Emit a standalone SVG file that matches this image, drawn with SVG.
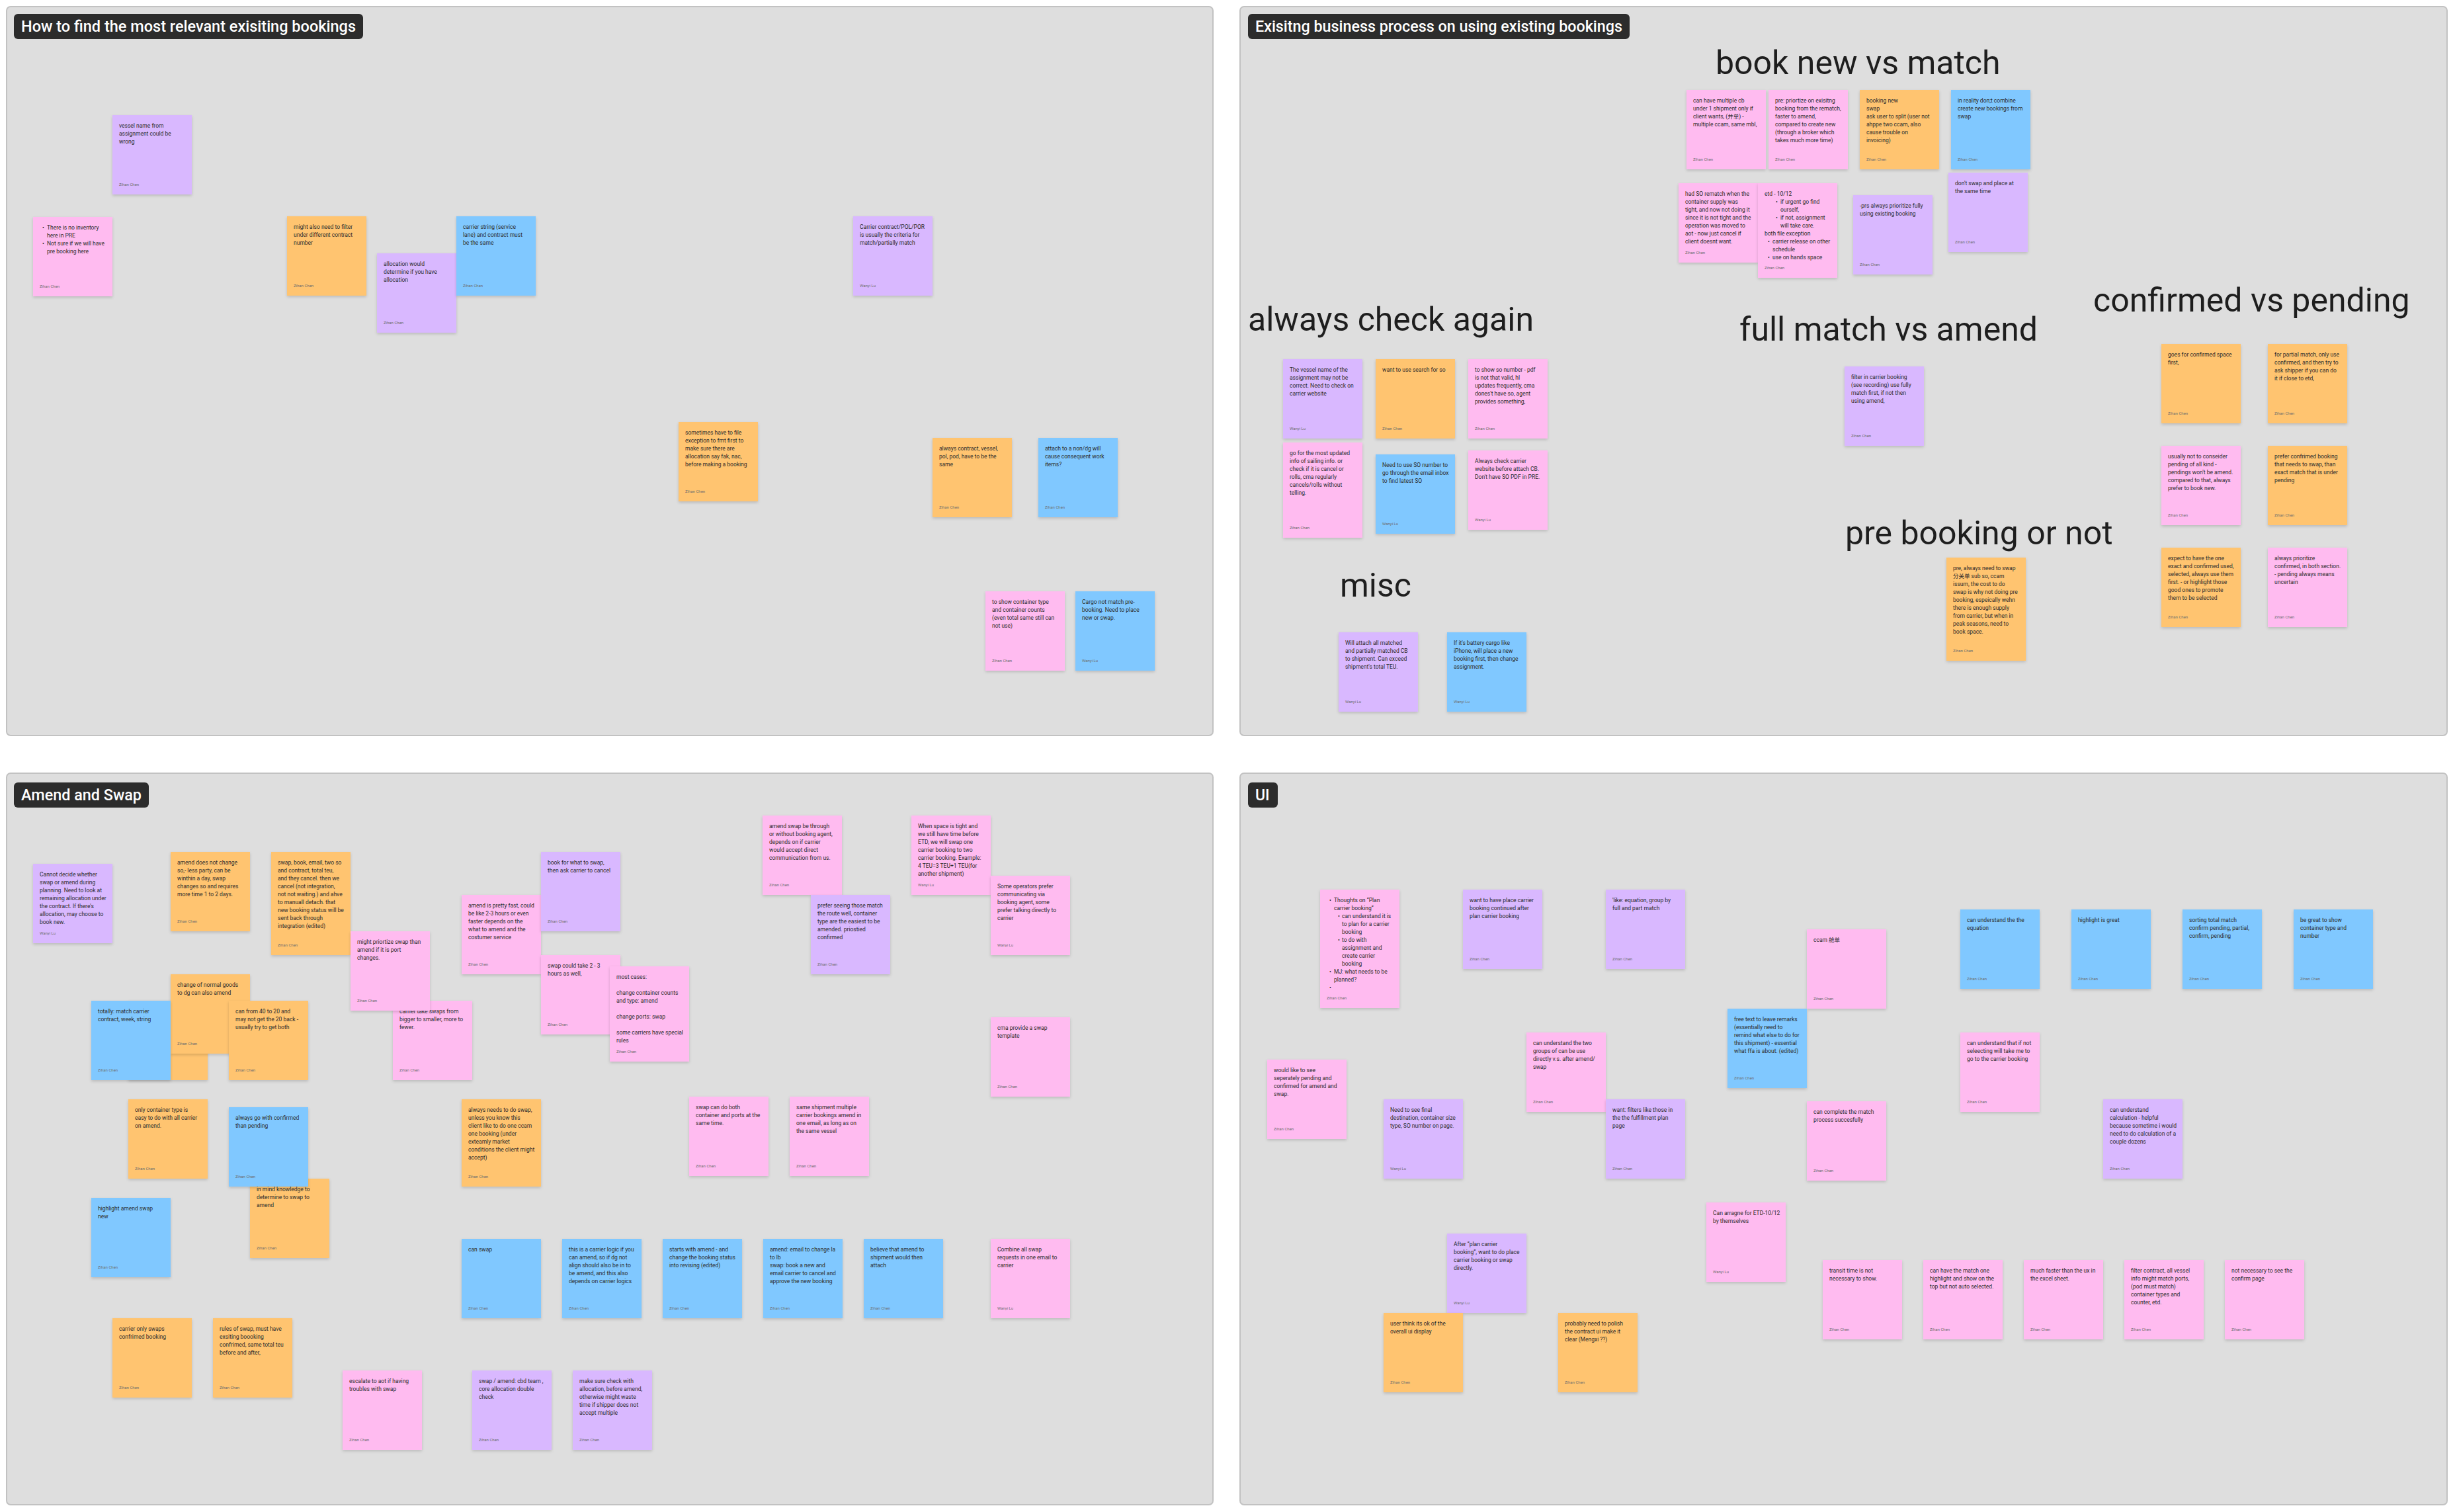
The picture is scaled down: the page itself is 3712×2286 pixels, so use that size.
<svg xmlns="http://www.w3.org/2000/svg" width="3712" height="2286" viewBox="0 0 3712 2286">
<defs>
<filter id="sh" x="-10%" y="-10%" width="120%" height="130%"><feDropShadow dx="0" dy="2" stdDeviation="2" flood-color="#000" flood-opacity="0.16"/></filter>
<style>
.panel{fill:#dedede;stroke:#c2c2c2;stroke-width:2}
.tag{fill:#2c2c2c}
.tagt{font-family:Roboto,'Liberation Sans',sans-serif;font-size:23px;font-weight:500;fill:#ffffff}
.h{font-family:Roboto,'Liberation Sans',sans-serif;font-size:50px;fill:#1e1e1e}
.note rect{filter:url(#sh)}
.pu{fill:#d9b8ff}.pk{fill:#ffbbf0}.or{fill:#ffc470}.bl{fill:#80c8ff}
.t{font-family:Roboto,'Liberation Sans','Noto Sans CJK SC',sans-serif;font-size:8.5px;fill:#2b2b2b}
.a{font-family:Roboto,'Liberation Sans',sans-serif;font-size:6px;fill:#6e6e6e}
</style>
</defs>
<rect width="3712" height="2286" fill="#ffffff"/>

<g id="panels">
<rect class="panel" x="10" y="10" width="1824" height="1102" rx="6"/>
<rect class="panel" x="1875" y="10" width="1825" height="1102" rx="6"/>
<rect class="panel" x="10" y="1169" width="1824" height="1106" rx="6"/>
<rect class="panel" x="1875" y="1169" width="1825" height="1106" rx="6"/>
</g>

<g id="titles">
<rect class="tag" x="21" y="21" width="528" height="38" rx="6"/><text class="tagt" x="32" y="48" textLength="506" lengthAdjust="spacingAndGlyphs">How to find the most relevant exisiting bookings</text>
<rect class="tag" x="1887" y="21" width="577" height="38" rx="6"/><text class="tagt" x="1898" y="48" textLength="555" lengthAdjust="spacingAndGlyphs">Exisitng business process on using existing bookings</text>
<rect class="tag" x="21" y="1183" width="204" height="38" rx="6"/><text class="tagt" x="32" y="1210" textLength="182" lengthAdjust="spacingAndGlyphs">Amend and Swap</text>
<rect class="tag" x="1887" y="1183" width="45" height="38" rx="6"/><text class="tagt" x="1898" y="1210">UI</text>
</g>

<g id="headings">
<text class="h" x="2594" y="112">book new vs match</text>
<text class="h" x="1887" y="500">always check again</text>
<text class="h" x="2630" y="515">full match vs amend</text>
<text class="h" x="3165" y="471">confirmed vs pending</text>
<text class="h" x="2790" y="823">pre booking or not</text>
<text class="h" x="2026" y="902">misc</text>
</g>

<g id="connectors"></g>

<!-- Panel 1 -->
<g id="p1-vessel" class="note" transform="translate(170,174)"><rect class="pu" width="120" height="120"/><text class="t"><tspan x="10" y="19">vessel name from</tspan><tspan x="10" y="31">assignment could be</tspan><tspan x="10" y="43">wrong</tspan></text><text class="a" x="10" y="107">Zihan Chen</text></g>
<g id="p1-inventory" class="note" transform="translate(50,328)"><rect class="pk" width="120" height="120"/><text class="t"><tspan x="14" y="19">•</tspan><tspan x="21" y="19">There is no inventory</tspan><tspan x="21" y="31">here in PRE</tspan><tspan x="14" y="43">•</tspan><tspan x="21" y="43">Not sure if we will have</tspan><tspan x="21" y="55">pre booking here</tspan></text><text class="a" x="10" y="107">Zihan Chen</text></g>
<g id="p1-filter" class="note" transform="translate(434,327)"><rect class="or" width="120" height="120"/><text class="t"><tspan x="10" y="19">might also need to filter</tspan><tspan x="10" y="31">under different contract</tspan><tspan x="10" y="43">number</tspan></text><text class="a" x="10" y="107">Zihan Chen</text></g>
<g id="p1-allocation" class="note" transform="translate(570,383)"><rect class="pu" width="120" height="120"/><text class="t"><tspan x="10" y="19">allocation would</tspan><tspan x="10" y="31">determine if you have</tspan><tspan x="10" y="43">allocation</tspan></text><text class="a" x="10" y="107">Zihan Chen</text></g>
<g id="p1-string" class="note" transform="translate(690,327)"><rect class="bl" width="120" height="120"/><text class="t"><tspan x="10" y="19">carrier string (service</tspan><tspan x="10" y="31">lane) and contract must</tspan><tspan x="10" y="43">be the same</tspan></text><text class="a" x="10" y="107">Zihan Chen</text></g>
<g id="p1-criteria" class="note" transform="translate(1290,327)"><rect class="pu" width="120" height="120"/><text class="t"><tspan x="10" y="19">Carrier contract/POL/POR</tspan><tspan x="10" y="31">is usually the criteria for</tspan><tspan x="10" y="43">match/partially match</tspan></text><text class="a" x="10" y="107">Wanyi Lu</text></g>
<g id="p1-exception" class="note" transform="translate(1026,638)"><rect class="or" width="120" height="120"/><text class="t"><tspan x="10" y="19">sometimes have to file</tspan><tspan x="10" y="31">exception to fmt first to</tspan><tspan x="10" y="43">make sure there are</tspan><tspan x="10" y="55">allocation say fak, nac,</tspan><tspan x="10" y="67">before making a booking</tspan></text><text class="a" x="10" y="107">Zihan Chen</text></g>
<g id="p1-always" class="note" transform="translate(1410,662)"><rect class="or" width="120" height="120"/><text class="t"><tspan x="10" y="19">always contract, vessel,</tspan><tspan x="10" y="31">pol, pod, have to be the</tspan><tspan x="10" y="43">same</tspan></text><text class="a" x="10" y="107">Zihan Chen</text></g>
<g id="p1-attach" class="note" transform="translate(1570,662)"><rect class="bl" width="120" height="120"/><text class="t"><tspan x="10" y="19">attach to a non/dg will</tspan><tspan x="10" y="31">cause consequent work</tspan><tspan x="10" y="43">items?</tspan></text><text class="a" x="10" y="107">Zihan Chen</text></g>
<g id="p1-containers" class="note" transform="translate(1490,894)"><rect class="pk" width="120" height="120"/><text class="t"><tspan x="10" y="19">to show container type</tspan><tspan x="10" y="31">and container counts</tspan><tspan x="10" y="43">(even total same still can</tspan><tspan x="10" y="55">not use)</tspan></text><text class="a" x="10" y="107">Zihan Chen</text></g>
<g id="p1-cargo" class="note" transform="translate(1626,894)"><rect class="bl" width="120" height="120"/><text class="t"><tspan x="10" y="19">Cargo not match pre-</tspan><tspan x="10" y="31">booking. Need to place</tspan><tspan x="10" y="43">new or swap.</tspan></text><text class="a" x="10" y="107">Wanyi Lu</text></g>

<!-- Panel 2 -->
<g id="p2-multiple" class="note" transform="translate(2550,136)"><rect class="pk" width="120" height="120"/><text class="t"><tspan x="10" y="19">can have multiple cb</tspan><tspan x="10" y="31">under 1 shipment only if</tspan><tspan x="10" y="43">client wants, (并单) -</tspan><tspan x="10" y="55">multiple ccam, same mbl,</tspan></text><text class="a" x="10" y="107">Zihan Chen</text></g>
<g id="p2-priortize" class="note" transform="translate(2674,136)"><rect class="pk" width="120" height="120"/><text class="t"><tspan x="10" y="19">pre: priortize on exisitng</tspan><tspan x="10" y="31">booking from the rematch,</tspan><tspan x="10" y="43">faster to  amend,</tspan><tspan x="10" y="55">compared to create new</tspan><tspan x="10" y="67">(through a broker which</tspan><tspan x="10" y="79">takes much more time)</tspan></text><text class="a" x="10" y="107">Zihan Chen</text></g>
<g id="p2-split" class="note" transform="translate(2812,136)"><rect class="or" width="120" height="120"/><text class="t"><tspan x="10" y="19">booking new</tspan><tspan x="10" y="31">swap</tspan><tspan x="10" y="43">ask user to split (user not</tspan><tspan x="10" y="55">ahppe two ccam, also</tspan><tspan x="10" y="67">cause trouble on</tspan><tspan x="10" y="79">invoicing)</tspan></text><text class="a" x="10" y="107">Zihan Chen</text></g>
<g id="p2-reality" class="note" transform="translate(2950,136)"><rect class="bl" width="120" height="120"/><text class="t"><tspan x="10" y="19">in reality don;t combine</tspan><tspan x="10" y="31">create new bookings from</tspan><tspan x="10" y="43">swap</tspan></text><text class="a" x="10" y="107">Zihan Chen</text></g>
<g id="p2-rematch" class="note" transform="translate(2538,277)"><rect class="pk" width="120" height="120"/><text class="t"><tspan x="10" y="19">had SO rematch when the</tspan><tspan x="10" y="31">container supply was</tspan><tspan x="10" y="43">tight, and now not doing it</tspan><tspan x="10" y="55">since it is not tight and the</tspan><tspan x="10" y="67">operation was moved to</tspan><tspan x="10" y="79">aot - now just cancel if</tspan><tspan x="10" y="91">client doesnt want.</tspan></text><text class="a" x="10" y="107">Zihan Chen</text></g>
<g id="p2-etd" class="note" transform="translate(2658,277)"><rect class="pk" width="120" height="143"/><text class="t"><tspan x="10" y="19">etd - 10/12</tspan><tspan x="27" y="31">•</tspan><tspan x="34" y="31">if urgent go find</tspan><tspan x="34" y="43">ourself,</tspan><tspan x="27" y="55">•</tspan><tspan x="34" y="55">if not, assignment</tspan><tspan x="34" y="67">will take care.</tspan><tspan x="10" y="79">both file exception</tspan><tspan x="15" y="91">•</tspan><tspan x="22" y="91">carrier release on other</tspan><tspan x="22" y="103">schedule</tspan><tspan x="15" y="115">•</tspan><tspan x="22" y="115">use on hands space</tspan></text><text class="a" x="10" y="130">Zihan Chen</text></g>
<g id="p2-prs" class="note" transform="translate(2802,295)"><rect class="pu" width="120" height="120"/><text class="t"><tspan x="10" y="19">-prs always prioritize fully</tspan><tspan x="10" y="31">using existing booking</tspan></text><text class="a" x="10" y="107">Zihan Chen</text></g>
<g id="p2-dontswap" class="note" transform="translate(2946,261)"><rect class="pu" width="120" height="120"/><text class="t"><tspan x="10" y="19">don't swap and place at</tspan><tspan x="10" y="31">the same time</tspan></text><text class="a" x="10" y="107">Zihan Chen</text></g>

<g id="p2-vesselname" class="note" transform="translate(1940,543)"><rect class="pu" width="120" height="120"/><text class="t"><tspan x="10" y="19">The vessel name of the</tspan><tspan x="10" y="31">assignment may not be</tspan><tspan x="10" y="43">correct. Need to check on</tspan><tspan x="10" y="55">carrier website</tspan></text><text class="a" x="10" y="107">Wanyi Lu</text></g>
<g id="p2-search" class="note" transform="translate(2080,543)"><rect class="or" width="120" height="120"/><text class="t"><tspan x="10" y="19">want to use search for so</tspan></text><text class="a" x="10" y="107">Zihan Chen</text></g>
<g id="p2-sonumber" class="note" transform="translate(2220,543)"><rect class="pk" width="120" height="120"/><text class="t"><tspan x="10" y="19">to show so number - pdf</tspan><tspan x="10" y="31">is not that valid, hl</tspan><tspan x="10" y="43">updates frequently, cma</tspan><tspan x="10" y="55">dones't have so, agent</tspan><tspan x="10" y="67">provides something,</tspan></text><text class="a" x="10" y="107">Zihan Chen</text></g>
<g id="p2-updated" class="note" transform="translate(1940,669)"><rect class="pk" width="120" height="144"/><text class="t"><tspan x="10" y="19">go for the most updated</tspan><tspan x="10" y="31">info of sailing info. or</tspan><tspan x="10" y="43">check if it is cancel or</tspan><tspan x="10" y="55">rolls, cma regularly</tspan><tspan x="10" y="67">cancels/rolls without</tspan><tspan x="10" y="79">telling.</tspan></text><text class="a" x="10" y="131">Zihan Chen</text></g>
<g id="p2-inbox" class="note" transform="translate(2080,687)"><rect class="bl" width="120" height="120"/><text class="t"><tspan x="10" y="19">Need to use SO number to</tspan><tspan x="10" y="31">go through the email inbox</tspan><tspan x="10" y="43">to find latest SO</tspan></text><text class="a" x="10" y="107">Wanyi Lu</text></g>
<g id="p2-website" class="note" transform="translate(2220,681)"><rect class="pk" width="120" height="120"/><text class="t"><tspan x="10" y="19">Always check carrier</tspan><tspan x="10" y="31">website before attach CB.</tspan><tspan x="10" y="43">Don't have SO PDF in PRE.</tspan></text><text class="a" x="10" y="107">Wanyi Lu</text></g>
<g id="p2-attachall" class="note" transform="translate(2024,956)"><rect class="pu" width="120" height="120"/><text class="t"><tspan x="10" y="19">Will attach all matched</tspan><tspan x="10" y="31">and partially matched CB</tspan><tspan x="10" y="43">to shipment. Can exceed</tspan><tspan x="10" y="55">shipment's total TEU.</tspan></text><text class="a" x="10" y="107">Wanyi Lu</text></g>
<g id="p2-battery" class="note" transform="translate(2188,956)"><rect class="bl" width="120" height="120"/><text class="t"><tspan x="10" y="19">If it's battery cargo like</tspan><tspan x="10" y="31">iPhone, will place a new</tspan><tspan x="10" y="43">booking first, then change</tspan><tspan x="10" y="55">assignment.</tspan></text><text class="a" x="10" y="107">Wanyi Lu</text></g>
<g id="p2-filterfully" class="note" transform="translate(2789,554)"><rect class="pu" width="120" height="120"/><text class="t"><tspan x="10" y="19">filter in carrier booking</tspan><tspan x="10" y="31">(see recording) use fully</tspan><tspan x="10" y="43">match first, if not then</tspan><tspan x="10" y="55">using amend,</tspan></text><text class="a" x="10" y="107">Zihan Chen</text></g>
<g id="p2-confirmedfirst" class="note" transform="translate(3268,520)"><rect class="or" width="120" height="120"/><text class="t"><tspan x="10" y="19">goes for confirmed space</tspan><tspan x="10" y="31">first,</tspan></text><text class="a" x="10" y="107">Zihan Chen</text></g>
<g id="p2-partial" class="note" transform="translate(3429,520)"><rect class="or" width="120" height="120"/><text class="t"><tspan x="10" y="19">for partial match, only use</tspan><tspan x="10" y="31">confirmed, and then try to</tspan><tspan x="10" y="43">ask shipper if you can  do</tspan><tspan x="10" y="55">it if close to etd,</tspan></text><text class="a" x="10" y="107">Zihan Chen</text></g>
<g id="p2-pendingkind" class="note" transform="translate(3268,674)"><rect class="pk" width="120" height="120"/><text class="t"><tspan x="10" y="19">usually not to conseider</tspan><tspan x="10" y="31">pending of all kind -</tspan><tspan x="10" y="43">pendings won't be amend.</tspan><tspan x="10" y="55">compared to that, always</tspan><tspan x="10" y="67">prefer to book new.</tspan></text><text class="a" x="10" y="107">Zihan Chen</text></g>
<g id="p2-preferconfirmed" class="note" transform="translate(3429,674)"><rect class="or" width="120" height="120"/><text class="t"><tspan x="10" y="19">prefer confrimed booking</tspan><tspan x="10" y="31">that needs to swap, than</tspan><tspan x="10" y="43">exact match that is under</tspan><tspan x="10" y="55">pending</tspan></text><text class="a" x="10" y="107">Zihan Chen</text></g>
<g id="p2-expect" class="note" transform="translate(3268,828)"><rect class="or" width="120" height="120"/><text class="t"><tspan x="10" y="19">expect to have the one</tspan><tspan x="10" y="31">exact and confirmed used,</tspan><tspan x="10" y="43">selected, always use them</tspan><tspan x="10" y="55">first. -  or highlight those</tspan><tspan x="10" y="67">good ones to promote</tspan><tspan x="10" y="79">them to be selected</tspan></text><text class="a" x="10" y="107">Zihan Chen</text></g>
<g id="p2-prioritize" class="note" transform="translate(3429,828)"><rect class="pk" width="120" height="120"/><text class="t"><tspan x="10" y="19">always prioritize</tspan><tspan x="10" y="31">confirmed, in both section.</tspan><tspan x="10" y="43">- pending always means</tspan><tspan x="10" y="55">uncertain</tspan></text><text class="a" x="10" y="107">Zihan Chen</text></g>
<g id="p2-prebooking" class="note" transform="translate(2943,843)"><rect class="or" width="120" height="156"/><text class="t"><tspan x="10" y="19">pre, always need to swap</tspan><tspan x="10" y="31">分关单 sub so, ccam</tspan><tspan x="10" y="43">issum, the cost to do</tspan><tspan x="10" y="55">swap is why not doing pre</tspan><tspan x="10" y="67">booking, espeically wehn</tspan><tspan x="10" y="79">there is enough supply</tspan><tspan x="10" y="91">from carrier, but when in</tspan><tspan x="10" y="103">peak seasons, need to</tspan><tspan x="10" y="115">book space.</tspan></text><text class="a" x="10" y="143">Zihan Chen</text></g>

<!-- Panel 3 -->
<g id="p3-cannotdecide" class="note" transform="translate(50,1306)"><rect class="pu" width="120" height="120"/><text class="t"><tspan x="10" y="19">Cannot decide whether</tspan><tspan x="10" y="31">swap or amend during</tspan><tspan x="10" y="43">planning. Need to look at</tspan><tspan x="10" y="55">remaining allocation under</tspan><tspan x="10" y="67">the contract. If there's</tspan><tspan x="10" y="79">allocation, may choose to</tspan><tspan x="10" y="91">book new.</tspan></text><text class="a" x="10" y="107">Wanyi Lu</text></g>
<g id="p3-amendnochange" class="note" transform="translate(258,1288)"><rect class="or" width="120" height="120"/><text class="t"><tspan x="10" y="19">amend does not change</tspan><tspan x="10" y="31">so,- less party, can be</tspan><tspan x="10" y="43">winthin a day, swap</tspan><tspan x="10" y="55">changes so and requires</tspan><tspan x="10" y="67">more time 1 to 2 days.</tspan></text><text class="a" x="10" y="107">Zihan Chen</text></g>
<g id="p3-swapbook" class="note" transform="translate(410,1288)"><rect class="or" width="120" height="156"/><text class="t"><tspan x="10" y="19">swap, book, email, two so</tspan><tspan x="10" y="31">and contract, total  teu,</tspan><tspan x="10" y="43">and they cancel. then we</tspan><tspan x="10" y="55">cancel (not integration,</tspan><tspan x="10" y="67">not not waiting.) and ahve</tspan><tspan x="10" y="79">to manuall detach. that</tspan><tspan x="10" y="91">new booking status will be</tspan><tspan x="10" y="103">sent back through</tspan><tspan x="10" y="115">integration (edited)</tspan></text><text class="a" x="10" y="143">Zihan Chen</text></g>
<g id="p3-carriertake" class="note" transform="translate(594,1513)"><rect class="pk" width="120" height="120"/><text class="t"><tspan x="10" y="19">carrier take swaps from</tspan><tspan x="10" y="31">bigger to smaller, more to</tspan><tspan x="10" y="43">fewer.</tspan></text><text class="a" x="10" y="107">Zihan Chen</text></g>
<g id="p3-portchanges" class="note" transform="translate(530,1408)"><rect class="pk" width="120" height="120"/><text class="t"><tspan x="10" y="19">might priortize swap than</tspan><tspan x="10" y="31">amend if it is port</tspan><tspan x="10" y="43">changes.</tspan></text><text class="a" x="10" y="107">Zihan Chen</text></g>
<g id="p3-hidden" class="note" transform="translate(194,1513)"><rect class="or" width="120" height="120"/></g>
<g id="p3-normalgoods" class="note" transform="translate(258,1473)"><rect class="or" width="120" height="120"/><text class="t"><tspan x="10" y="19">change of normal goods</tspan><tspan x="10" y="31">to dg can also amend</tspan></text><text class="a" x="10" y="107">Zihan Chen</text></g>
<g id="p3-totally" class="note" transform="translate(138,1513)"><rect class="bl" width="120" height="120"/><text class="t"><tspan x="10" y="19">totally: match carrier</tspan><tspan x="10" y="31">contract, week, string</tspan></text><text class="a" x="10" y="107">Zihan Chen</text></g>
<g id="p3-40to20" class="note" transform="translate(346,1513)"><rect class="or" width="120" height="120"/><text class="t"><tspan x="10" y="19">can from 40 to 20 and</tspan><tspan x="10" y="31">may not get the 20 back -</tspan><tspan x="10" y="43">usually try to get both</tspan></text><text class="a" x="10" y="107">Zihan Chen</text></g>
<g id="p3-containertype" class="note" transform="translate(194,1662)"><rect class="or" width="120" height="120"/><text class="t"><tspan x="10" y="19">only container type is</tspan><tspan x="10" y="31">easy to do with all carrier</tspan><tspan x="10" y="43">on amend.</tspan></text><text class="a" x="10" y="107">Zihan Chen</text></g>
<g id="p3-inmind" class="note" transform="translate(378,1782)"><rect class="or" width="120" height="120"/><text class="t"><tspan x="10" y="19">in mind knowledge to</tspan><tspan x="10" y="31">determine to swap to</tspan><tspan x="10" y="43">amend</tspan></text><text class="a" x="10" y="107">Zihan Chen</text></g>
<g id="p3-alwaysgo" class="note" transform="translate(346,1674)"><rect class="bl" width="120" height="120"/><text class="t"><tspan x="10" y="19">always go with confirmed</tspan><tspan x="10" y="31">than pending</tspan></text><text class="a" x="10" y="107">Zihan Chen</text></g>
<g id="p3-highlight" class="note" transform="translate(138,1811)"><rect class="bl" width="120" height="120"/><text class="t"><tspan x="10" y="19">highlight amend swap</tspan><tspan x="10" y="31">new</tspan></text><text class="a" x="10" y="107">Zihan Chen</text></g>
<g id="p3-carrieronly" class="note" transform="translate(170,1993)"><rect class="or" width="120" height="120"/><text class="t"><tspan x="10" y="19">carrier only swaps</tspan><tspan x="10" y="31">confrimed booking</tspan></text><text class="a" x="10" y="107">Zihan Chen</text></g>
<g id="p3-rules" class="note" transform="translate(322,1993)"><rect class="or" width="120" height="120"/><text class="t"><tspan x="10" y="19">rules of swap, must have</tspan><tspan x="10" y="31">exsiting boooking</tspan><tspan x="10" y="43">confrimed, same total teu</tspan><tspan x="10" y="55">before and after,</tspan></text><text class="a" x="10" y="107">Zihan Chen</text></g>
<g id="p3-escalate" class="note" transform="translate(518,2072)"><rect class="pk" width="120" height="120"/><text class="t"><tspan x="10" y="19">escalate to aot if having</tspan><tspan x="10" y="31">troubles with swap</tspan></text><text class="a" x="10" y="107">Zihan Chen</text></g>
<g id="p3-amendfast" class="note" transform="translate(698,1353)"><rect class="pk" width="120" height="120"/><text class="t"><tspan x="10" y="19">amend is pretty fast, could</tspan><tspan x="10" y="31">be like 2-3 hours or even</tspan><tspan x="10" y="43">faster depends on the</tspan><tspan x="10" y="55">what to amend and the</tspan><tspan x="10" y="67">costumer service</tspan></text><text class="a" x="10" y="107">Zihan Chen</text></g>
<g id="p3-bookfor" class="note" transform="translate(818,1288)"><rect class="pu" width="120" height="120"/><text class="t"><tspan x="10" y="19">book for what to swap,</tspan><tspan x="10" y="31">then ask carrier to cancel</tspan></text><text class="a" x="10" y="107">Zihan Chen</text></g>
<g id="p3-swaptake" class="note" transform="translate(818,1444)"><rect class="pk" width="120" height="120"/><text class="t"><tspan x="10" y="19">swap could take 2 - 3</tspan><tspan x="10" y="31">hours as well,</tspan></text><text class="a" x="10" y="107">Zihan Chen</text></g>
<g id="p3-mostcases" class="note" transform="translate(922,1461)"><rect class="pk" width="120" height="144"/><text class="t"><tspan x="10" y="19">most cases:</tspan><tspan x="10" y="43">change container counts</tspan><tspan x="10" y="55">and type: amend</tspan><tspan x="10" y="79">change ports: swap</tspan><tspan x="10" y="103">some carriers have special</tspan><tspan x="10" y="115">rules</tspan></text><text class="a" x="10" y="131">Zihan Chen</text></g>
<g id="p3-agent" class="note" transform="translate(1153,1233)"><rect class="pk" width="120" height="120"/><text class="t"><tspan x="10" y="19">amend swap be through</tspan><tspan x="10" y="31">or without booking agent,</tspan><tspan x="10" y="43">depends on if carrier</tspan><tspan x="10" y="55">would accept direct</tspan><tspan x="10" y="67">communication from us.</tspan></text><text class="a" x="10" y="107">Zihan Chen</text></g>
<g id="p3-preferseeing" class="note" transform="translate(1226,1353)"><rect class="pu" width="120" height="120"/><text class="t"><tspan x="10" y="19">prefer seeing those match</tspan><tspan x="10" y="31">the route well, container</tspan><tspan x="10" y="43">type are the easiest to be</tspan><tspan x="10" y="55">amended. priostied</tspan><tspan x="10" y="67">confirmed</tspan></text><text class="a" x="10" y="107">Zihan Chen</text></g>
<g id="p3-spacetight" class="note" transform="translate(1378,1233)"><rect class="pk" width="120" height="120"/><text class="t"><tspan x="10" y="19">When space is tight and</tspan><tspan x="10" y="31">we still have time before</tspan><tspan x="10" y="43">ETD, we will swap one</tspan><tspan x="10" y="55">carrier booking to two</tspan><tspan x="10" y="67">carrier booking. Example:</tspan><tspan x="10" y="79">4 TEU=3 TEU+1 TEU(for</tspan><tspan x="10" y="91">another shipment)</tspan></text><text class="a" x="10" y="107">Wanyi Lu</text></g>
<g id="p3-operators" class="note" transform="translate(1498,1324)"><rect class="pk" width="120" height="120"/><text class="t"><tspan x="10" y="19">Some operators prefer</tspan><tspan x="10" y="31">communicating via</tspan><tspan x="10" y="43">booking agent, some</tspan><tspan x="10" y="55">prefer talking directly to</tspan><tspan x="10" y="67">carrier</tspan></text><text class="a" x="10" y="107">Wanyi Lu</text></g>
<g id="p3-template" class="note" transform="translate(1498,1538)"><rect class="pk" width="120" height="120"/><text class="t"><tspan x="10" y="19">cma provide a swap</tspan><tspan x="10" y="31">template</tspan></text><text class="a" x="10" y="107">Zihan Chen</text></g>
<g id="p3-alwaysneeds" class="note" transform="translate(698,1662)"><rect class="or" width="120" height="132"/><text class="t"><tspan x="10" y="19">always needs to do swap,</tspan><tspan x="10" y="31">unless you know this</tspan><tspan x="10" y="43">client like to do one ccam</tspan><tspan x="10" y="55">one booking (under</tspan><tspan x="10" y="67">exteamly market</tspan><tspan x="10" y="79">conditions the client might</tspan><tspan x="10" y="91">accept)</tspan></text><text class="a" x="10" y="119">Zihan Chen</text></g>
<g id="p3-both" class="note" transform="translate(1042,1658)"><rect class="pk" width="120" height="120"/><text class="t"><tspan x="10" y="19">swap can do both</tspan><tspan x="10" y="31">container and ports at the</tspan><tspan x="10" y="43">same time.</tspan></text><text class="a" x="10" y="107">Zihan Chen</text></g>
<g id="p3-oneemail" class="note" transform="translate(1194,1658)"><rect class="pk" width="120" height="120"/><text class="t"><tspan x="10" y="19">same shipment multiple</tspan><tspan x="10" y="31">carrier bookings amend in</tspan><tspan x="10" y="43">one email, as long as on</tspan><tspan x="10" y="55">the same vessel</tspan></text><text class="a" x="10" y="107">Zihan Chen</text></g>
<g id="p3-canswap" class="note" transform="translate(698,1873)"><rect class="bl" width="120" height="120"/><text class="t"><tspan x="10" y="19">can swap</tspan></text><text class="a" x="10" y="107">Zihan Chen</text></g>
<g id="p3-carrierlogic" class="note" transform="translate(850,1873)"><rect class="bl" width="120" height="120"/><text class="t"><tspan x="10" y="19">this is a carrier logic if you</tspan><tspan x="10" y="31">can amend, so if dg not</tspan><tspan x="10" y="43">align should also be in to</tspan><tspan x="10" y="55">be amend, and this also</tspan><tspan x="10" y="67">depends on carrier logics</tspan></text><text class="a" x="10" y="107">Zihan Chen</text></g>
<g id="p3-revising" class="note" transform="translate(1002,1873)"><rect class="bl" width="120" height="120"/><text class="t"><tspan x="10" y="19">starts with amend - and</tspan><tspan x="10" y="31">change the booking status</tspan><tspan x="10" y="43">into revising (edited)</tspan></text><text class="a" x="10" y="107">Zihan Chen</text></g>
<g id="p3-emailchange" class="note" transform="translate(1154,1873)"><rect class="bl" width="120" height="120"/><text class="t"><tspan x="10" y="19">amend: email to change la</tspan><tspan x="10" y="31">to lb</tspan><tspan x="10" y="43">swap: book a new and</tspan><tspan x="10" y="55">email carrier to cancel and</tspan><tspan x="10" y="67">approve the new booking</tspan></text><text class="a" x="10" y="107">Zihan Chen</text></g>
<g id="p3-believe" class="note" transform="translate(1306,1873)"><rect class="bl" width="120" height="120"/><text class="t"><tspan x="10" y="19">believe that amend to</tspan><tspan x="10" y="31">shipment would then</tspan><tspan x="10" y="43">attach</tspan></text><text class="a" x="10" y="107">Zihan Chen</text></g>
<g id="p3-combine" class="note" transform="translate(1498,1873)"><rect class="pk" width="120" height="120"/><text class="t"><tspan x="10" y="19">Combine all swap</tspan><tspan x="10" y="31">requests in one email to</tspan><tspan x="10" y="43">carrier</tspan></text><text class="a" x="10" y="107">Wanyi Lu</text></g>
<g id="p3-cbdteam" class="note" transform="translate(714,2072)"><rect class="pu" width="120" height="120"/><text class="t"><tspan x="10" y="19">swap / amend: cbd team ,</tspan><tspan x="10" y="31">core allocation double</tspan><tspan x="10" y="43">check</tspan></text><text class="a" x="10" y="107">Zihan Chen</text></g>
<g id="p3-makesure" class="note" transform="translate(866,2072)"><rect class="pu" width="120" height="120"/><text class="t"><tspan x="10" y="19">make sure check with</tspan><tspan x="10" y="31">allocation, before amend,</tspan><tspan x="10" y="43">otherwise might waste</tspan><tspan x="10" y="55">time if shipper does not</tspan><tspan x="10" y="67">accept multiple</tspan></text><text class="a" x="10" y="107">Zihan Chen</text></g>

<!-- Panel 4 -->
<g id="p4-thoughts" class="note" transform="translate(1996,1345)"><rect class="pk" width="120" height="179"/><text class="t"><tspan x="14" y="19">•</tspan><tspan x="21" y="19">Thoughts on “Plan</tspan><tspan x="21" y="31">carrier booking”</tspan><tspan x="27" y="43">•</tspan><tspan x="33" y="43">can understand it is</tspan><tspan x="33" y="55">to plan for a carrier</tspan><tspan x="33" y="67">booking</tspan><tspan x="27" y="79">•</tspan><tspan x="33" y="79">to do with</tspan><tspan x="33" y="91">assignment and</tspan><tspan x="33" y="103">create carrier</tspan><tspan x="33" y="115">booking</tspan><tspan x="14" y="127">•</tspan><tspan x="21" y="127">MJ: what needs to be</tspan><tspan x="21" y="139">planned?</tspan><tspan x="14" y="151">•</tspan></text><text class="a" x="10" y="166">Zihan Chen</text></g>
<g id="p4-continued" class="note" transform="translate(2212,1345)"><rect class="pu" width="120" height="120"/><text class="t"><tspan x="10" y="19">want to have place carrier</tspan><tspan x="10" y="31">booking continued after</tspan><tspan x="10" y="43">plan carrier booking</tspan></text><text class="a" x="10" y="107">Zihan Chen</text></g>
<g id="p4-equation" class="note" transform="translate(2428,1345)"><rect class="pu" width="120" height="120"/><text class="t"><tspan x="10" y="19">'like: equation, group by</tspan><tspan x="10" y="31">full and part match</tspan></text><text class="a" x="10" y="107">Zihan Chen</text></g>
<g id="p4-ccam" class="note" transform="translate(2732,1405)"><rect class="pk" width="120" height="120"/><text class="t"><tspan x="10" y="19">ccam 舱单</tspan></text><text class="a" x="10" y="107">Zihan Chen</text></g>
<g id="p4-theequation" class="note" transform="translate(2964,1375)"><rect class="bl" width="120" height="120"/><text class="t"><tspan x="10" y="19">can understand the the</tspan><tspan x="10" y="31">equation</tspan></text><text class="a" x="10" y="107">Zihan Chen</text></g>
<g id="p4-highlightgreat" class="note" transform="translate(3132,1375)"><rect class="bl" width="120" height="120"/><text class="t"><tspan x="10" y="19">highlight is great</tspan></text><text class="a" x="10" y="107">Zihan Chen</text></g>
<g id="p4-sorting" class="note" transform="translate(3300,1375)"><rect class="bl" width="120" height="120"/><text class="t"><tspan x="10" y="19">sorting total match</tspan><tspan x="10" y="31">confirm pending, partial,</tspan><tspan x="10" y="43">confirm, pending</tspan></text><text class="a" x="10" y="107">Zihan Chen</text></g>
<g id="p4-showtype" class="note" transform="translate(3468,1375)"><rect class="bl" width="120" height="120"/><text class="t"><tspan x="10" y="19">be great to show</tspan><tspan x="10" y="31">container type and</tspan><tspan x="10" y="43">number</tspan></text><text class="a" x="10" y="107">Zihan Chen</text></g>
<g id="p4-freetext" class="note" transform="translate(2612,1525)"><rect class="bl" width="120" height="120"/><text class="t"><tspan x="10" y="19">free text to leave remarks</tspan><tspan x="10" y="31">(essentially need to</tspan><tspan x="10" y="43">remind what else to do for</tspan><tspan x="10" y="55">this shipment) - essential</tspan><tspan x="10" y="67">what ffa is about. (edited)</tspan></text><text class="a" x="10" y="107">Zihan Chen</text></g>
<g id="p4-seperately" class="note" transform="translate(1916,1602)"><rect class="pk" width="120" height="120"/><text class="t"><tspan x="10" y="19">would like to see</tspan><tspan x="10" y="31">seperately pending and</tspan><tspan x="10" y="43">confirmed for amend and</tspan><tspan x="10" y="55">swap.</tspan></text><text class="a" x="10" y="107">Zihan Chen</text></g>
<g id="p4-finaldest" class="note" transform="translate(2092,1662)"><rect class="pu" width="120" height="120"/><text class="t"><tspan x="10" y="19">Need to see final</tspan><tspan x="10" y="31">destination, container size</tspan><tspan x="10" y="43">type, SO number on page.</tspan></text><text class="a" x="10" y="107">Wanyi Lu</text></g>
<g id="p4-twogroups" class="note" transform="translate(2308,1561)"><rect class="pk" width="120" height="120"/><text class="t"><tspan x="10" y="19">can understand the two</tspan><tspan x="10" y="31">groups of can be use</tspan><tspan x="10" y="43">directly v.s. after amend/</tspan><tspan x="10" y="55">swap</tspan></text><text class="a" x="10" y="107">Zihan Chen</text></g>
<g id="p4-filters" class="note" transform="translate(2428,1662)"><rect class="pu" width="120" height="120"/><text class="t"><tspan x="10" y="19">want: filters like those in</tspan><tspan x="10" y="31">the the fulfillment plan</tspan><tspan x="10" y="43">page</tspan></text><text class="a" x="10" y="107">Zihan Chen</text></g>
<g id="p4-complete" class="note" transform="translate(2732,1665)"><rect class="pk" width="120" height="120"/><text class="t"><tspan x="10" y="19">can complete the match</tspan><tspan x="10" y="31">process succesfully</tspan></text><text class="a" x="10" y="107">Zihan Chen</text></g>
<g id="p4-notselecting" class="note" transform="translate(2964,1561)"><rect class="pk" width="120" height="120"/><text class="t"><tspan x="10" y="19">can understand that if not</tspan><tspan x="10" y="31">seleecting will take me to</tspan><tspan x="10" y="43">go to the carrier booking</tspan></text><text class="a" x="10" y="107">Zihan Chen</text></g>
<g id="p4-calculation" class="note" transform="translate(3180,1662)"><rect class="pu" width="120" height="120"/><text class="t"><tspan x="10" y="19">can understand</tspan><tspan x="10" y="31">calculation - helpful</tspan><tspan x="10" y="43">because sometime i would</tspan><tspan x="10" y="55">need to do calculation of a</tspan><tspan x="10" y="67">couple dozens</tspan></text><text class="a" x="10" y="107">Zihan Chen</text></g>
<g id="p4-etd" class="note" transform="translate(2580,1818)"><rect class="pk" width="120" height="120"/><text class="t"><tspan x="10" y="19">Can arragne for ETD-10/12</tspan><tspan x="10" y="31">by themselves</tspan></text><text class="a" x="10" y="107">Wanyi Lu</text></g>
<g id="p4-afterplan" class="note" transform="translate(2188,1865)"><rect class="pu" width="120" height="120"/><text class="t"><tspan x="10" y="19">After “plan carrier</tspan><tspan x="10" y="31">booking”, want to do place</tspan><tspan x="10" y="43">carrier booking or swap</tspan><tspan x="10" y="55">directly.</tspan></text><text class="a" x="10" y="107">Wanyi Lu</text></g>
<g id="p4-uidisplay" class="note" transform="translate(2092,1985)"><rect class="or" width="120" height="120"/><text class="t"><tspan x="10" y="19">user think its ok of the</tspan><tspan x="10" y="31">overall ui display</tspan></text><text class="a" x="10" y="107">Zihan Chen</text></g>
<g id="p4-polish" class="note" transform="translate(2356,1985)"><rect class="or" width="120" height="120"/><text class="t"><tspan x="10" y="19">probably need to polish</tspan><tspan x="10" y="31">the contract ui make it</tspan><tspan x="10" y="43">clear (Mengxi ??)</tspan></text><text class="a" x="10" y="107">Zihan Chen</text></g>
<g id="p4-transit" class="note" transform="translate(2756,1905)"><rect class="pk" width="120" height="120"/><text class="t"><tspan x="10" y="19">transit time is not</tspan><tspan x="10" y="31">necessary to show.</tspan></text><text class="a" x="10" y="107">Zihan Chen</text></g>
<g id="p4-matchone" class="note" transform="translate(2908,1905)"><rect class="pk" width="120" height="120"/><text class="t"><tspan x="10" y="19">can have the match one</tspan><tspan x="10" y="31">highlight and show on the</tspan><tspan x="10" y="43">top but not auto selected.</tspan></text><text class="a" x="10" y="107">Zihan Chen</text></g>
<g id="p4-faster" class="note" transform="translate(3060,1905)"><rect class="pk" width="120" height="120"/><text class="t"><tspan x="10" y="19">much faster than the ux in</tspan><tspan x="10" y="31">the excel sheet.</tspan></text><text class="a" x="10" y="107">Zihan Chen</text></g>
<g id="p4-filtercontract" class="note" transform="translate(3212,1905)"><rect class="pk" width="120" height="120"/><text class="t"><tspan x="10" y="19">filter contract, all vessel</tspan><tspan x="10" y="31">info might match ports,</tspan><tspan x="10" y="43">(pod must match)</tspan><tspan x="10" y="55">container types and</tspan><tspan x="10" y="67">counter, etd.</tspan></text><text class="a" x="10" y="107">Zihan Chen</text></g>
<g id="p4-confirmpage" class="note" transform="translate(3364,1905)"><rect class="pk" width="120" height="120"/><text class="t"><tspan x="10" y="19">not necessary to see the</tspan><tspan x="10" y="31">confirm page</tspan></text><text class="a" x="10" y="107">Zihan Chen</text></g>
</svg>
